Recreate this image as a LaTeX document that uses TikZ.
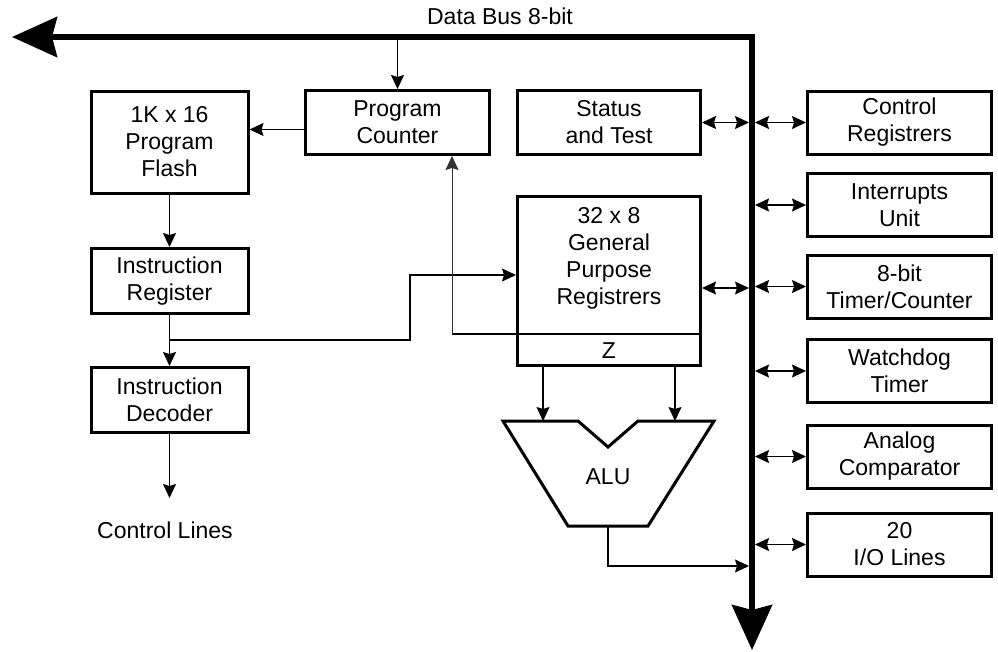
\documentclass[tikz,border=0pt]{standalone}
\usepackage{fontspec}
\setmainfont{Liberation Sans}
\usetikzlibrary{arrows.meta}

\begin{document}
\begin{tikzpicture}[x=1pt,y=-1pt,>={Stealth[length=14pt,width=13pt,inset=2pt]},
    every node/.style={font=\fontsize{23}{27}\selectfont,align=center,inner sep=0pt},
    box/.style={shape=rectangle,draw=black,line width=3pt},
    wire/.style={line width=1.3pt},
    bigtip/.tip={Stealth[length=45pt,width=40pt,inset=5pt]},
    bus/.style={line width=6pt,line join=miter,bigtip-bigtip}]
    \useasboundingbox (0,0) rectangle (998,651);
    \node[box,minimum width=157,minimum height=102] (flash) at (169.5,142) {1K x 16\\Program\\Flash};
    \node[box,minimum width=184,minimum height=64] (pc) at (397.5,122.5) {Program\\Counter};
    \node[box,minimum width=183,minimum height=64] (status) at (609,122.5) {Status\\and Test};
    \node[box,minimum width=157,minimum height=65] (ir) at (169.5,281) {Instruction\\Register};
    \node[box,minimum width=157,minimum height=65] (id) at (169.5,400) {Instruction\\Decoder};
    \node[box,minimum width=183,minimum height=169] (gpr) at (609,281) {};
    \node (gprtext) at (609,258) {32 x 8\\General\\Purpose\\Registrers};
    \node (z) at (609,351) {Z};
    \node[box,minimum width=184,minimum height=63] (ctrl) at (899.5,122.5) {Control\\Registrers};
    \node[box,minimum width=184,minimum height=63] (intr) at (899.5,205) {Interrupts\\Unit};
    \node[box,minimum width=184,minimum height=63] (timer) at (899.5,286.5) {8-bit\\Timer/Counter};
    \node[box,minimum width=184,minimum height=63] (wdog) at (899.5,371) {Watchdog\\Timer};
    \node[box,minimum width=184,minimum height=63] (acmp) at (899.5,456.5) {Analog\\Comparator};
    \node[box,minimum width=184,minimum height=63] (io) at (899.5,544.5) {20\\I/O Lines};
    \node (alu) at (608,477) {ALU};
    \node (buslabel) at (500,16) {Data Bus 8-bit};
    \node (ctllabel) at (165,530.5) {Control Lines};

    \coordinate (busl) at (12,37);
    \coordinate (busc) at (752,37);
    \coordinate (busb) at (752,650);
    \coordinate (bl) at (749,37);
    \coordinate (br) at (755,37);
    \coordinate (tap) at (169.5,340);
    \coordinate (kink) at (410,275);
    \coordinate (zr) at (702,334);
    \coordinate (fb) at (452,334);
    \coordinate (alul) at (543,421);
    \coordinate (alur) at (675,421);
    \coordinate (aluo) at (608,526);
    \coordinate (aluin) at (749,566);
    \coordinate (ctl) at (169.5,498);

    \draw[bus] (busl) -- (busc) -- (busb);
    \draw[line width=3pt,line join=miter] (503,421) -- (578,421) -- (608,447) -- (638,421)
        -- (714,421) -- (648,526) -- (568,526) -- cycle;

    \path[wire,->] (pc.north |- busc) edge (pc.north);
    \path[wire,->] ([yshift=-7pt]pc.west) edge ([yshift=-7pt]pc.west -| flash.east);
    \path[wire,->] (flash.south) edge (ir.north);
    \path[wire,->] (ir.south) edge (id.north);
    \path[wire,->] (id.south) edge (ctl);
    \draw[wire,->] (tap) -| (kink) -- (kink -| gpr.west);
    \draw[line width=1.1pt] (zr) -- (fb);
    \draw[line width=1pt,black!80,->] (fb) -- (fb |- pc.south);
    \path[wire,->] (alul |- gpr.south) edge (alul);
    \path[wire,->] (alur |- gpr.south) edge (alur);
    \draw[wire,->] (aluo) |- (aluin);
    \path[wire,<->] (status.east) edge (bl |- status.east);
    \path[wire,<->] ([yshift=-7pt]gpr.east) edge ([yshift=-7pt]gpr.east -| bl);
    \foreach \n in {ctrl,intr,timer,wdog,acmp,io}
        \path[wire,<->] (br |- \n.west) edge (\n.west);
\end{tikzpicture}
\end{document}
